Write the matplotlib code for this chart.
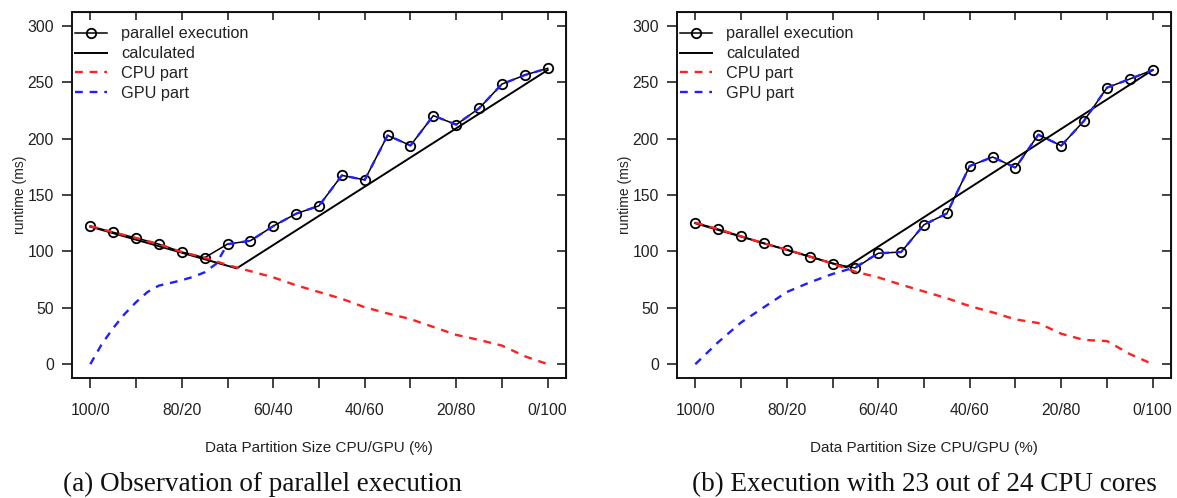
import matplotlib
matplotlib.use("Agg")
import matplotlib.pyplot as plt

plt.rcParams['font.family'] = ['Liberation Sans', 'DejaVu Sans']

# ---------------- data ----------------
share = [0, 5, 10, 15, 20, 25, 30, 35, 40, 45, 50, 55, 60, 65, 70, 75, 80, 85, 90, 95, 100]
tick_pos = [0, 10, 20, 30, 40, 50, 60, 70, 80, 90, 100]
label_pos = [0, 20, 40, 60, 80, 100]
label_txt = ["100/0", "80/20", "60/40", "40/60", "20/80", "0/100"]
y_ticks = [0, 50, 100, 150, 200, 250, 300]

# chart (a)
par_a = [122.5, 117, 112, 106.5, 99.5, 94.5, 106.5, 109.5, 122.5, 133.5, 140.5,
         167.5, 163.5, 203, 194, 220.5, 212.5, 227, 248.5, 256.5, 262.5]
calc_x_a = [0, 32, 100]
calc_a = [122, 85, 261]
cpu_a = [122.5, 117, 112, 106.5, 99.5, 94.5, 88, 82.5, 77, 70, 64,
         58, 50.5, 45, 40, 33, 26, 21.5, 16.5, 7, 0]
gpu_x_a = [0, 2.5, 5, 7.5, 10, 12.5, 15, 17.5, 20, 22.5, 25, 27.5, 30,
           35, 40, 45, 50, 55, 60, 65, 70, 75, 80, 85, 90, 95, 100]
gpu_a = [0, 17.7, 32, 44.5, 55, 64, 69.7, 72, 74.5, 77.5, 81.5, 89, 106.5,
         109.5, 122.5, 133.5, 140.5, 167.5, 163.5, 203, 194, 220.5, 212.5, 227, 248.5, 256.5, 262.5]

# chart (b)
par_b = [125.5, 119.8, 113.5, 107.1, 101.6, 95.5, 89.2, 85.4, 98.4, 99.5, 123.7,
         133.7, 175.8, 183.8, 174.3, 203.6, 193.8, 216, 245.3, 253, 261]
calc_x_b = [0, 33, 100]
calc_b = [125, 86, 261]
cpu_b = [125.5, 119.8, 113.5, 107.1, 101.6, 95.5, 89.2, 82, 77, 70.5, 64.5,
         58.5, 51.5, 46, 39.7, 36.5, 27, 21.5, 20.5, 9, 0]
gpu_b = [0, 19.5, 37, 50.5, 64, 72.5, 80, 86, 98.4, 99.5, 123.7,
         133.7, 175.8, 183.8, 174.3, 203.6, 193.8, 216, 245.3, 253, 261]

captions = ["(a) Observation of parallel execution", "(b) Execution with 23 out of 24 CPU cores"]
caption_cx = [262, 924]

RED = '#ff2020'
BLUE = '#2020ff'
FS = 11.3
FS_LEG = 11.7
FS_LAB = 11.0
FS_YLAB = 10.0

W, H = 1177, 498
fig = plt.figure(figsize=(W / 100, H / 100), dpi=100)

def px_axes(x0, y0, x1, y1):
    return fig.add_axes([x0 / W, 1 - y1 / H, (x1 - x0) / W, (y1 - y0) / H])

axes = [px_axes(72, 12.5, 566, 377.7), px_axes(677, 12.5, 1171, 377.7)]
datasets = [
    (par_a, calc_x_a, calc_a, share, cpu_a, gpu_x_a, gpu_a),
    (par_b, calc_x_b, calc_b, share, cpu_b, share, gpu_b),
]

for ax, (par, cx, cy, cpx, cpy, gx, gy), cap, ccx in zip(axes, datasets, captions, caption_cx):
    ax.plot(share, par, color='black', lw=1.1, marker='o', ms=6.8,
            mfc='none', mec='black', mew=1.3, zorder=2, label='parallel execution')
    ax.plot(cx, cy, color='black', lw=1.4, zorder=2, label='calculated')
    ax.plot(cpx, cpy, color=RED, lw=1.7, dashes=(3.3, 2.9), zorder=3, label='CPU part')
    ax.plot(gx, gy, color=BLUE, lw=1.7, dashes=(3.3, 2.9), zorder=3, label='GPU part')

    ax.set_xlim(-4, 104)
    ax.set_ylim(-12, 312)
    ax.set_xticks(tick_pos)
    ax.set_xticklabels([label_txt[label_pos.index(p)] if p in label_pos else "" for p in tick_pos])
    ax.set_yticks(y_ticks)
    ax.tick_params(axis='both', which='major', labelsize=FS, length=7, width=1.2,
                   direction='out', color='#222222', labelcolor='#222222')
    ax.tick_params(axis='x', pad=11)
    ax.tick_params(axis='y', pad=6)
    for s in ax.spines.values():
        s.set_linewidth(1.4)
        s.set_color('#111111')

    # inward ticks on top and right
    top = ax.secondary_xaxis('top')
    top.set_xticks(tick_pos)
    top.set_xticklabels([])
    top.tick_params(direction='in', length=5.5, width=1.2, color='#222222')
    right = ax.secondary_yaxis('right')
    right.set_yticks(y_ticks)
    right.set_yticklabels([])
    right.tick_params(direction='in', length=6.5, width=1.2, color='#222222')

    ax.set_xlabel("Data Partition Size CPU/GPU (%)", fontsize=FS_LAB, labelpad=17, color='#222222')
    ax.set_ylabel("runtime (ms)", fontsize=FS_YLAB, color='#222222')
    ax.yaxis.set_label_coords(-52 / 494, 0.5)
    ax.yaxis.label.set_va('center')

    leg = ax.legend(loc='upper left', bbox_to_anchor=(0.006, 0.962), frameon=False,
                    fontsize=FS_LEG, handlelength=2.0, handletextpad=0.85,
                    labelspacing=0.3, borderaxespad=0, borderpad=0)
    for t in leg.get_texts():
        t.set_color('#222222')

    fig.text(ccx / W, 1 - 491 / H, cap, ha='center', va='baseline',
             fontsize=19.5, family='Liberation Serif', color='#111111')

fig.savefig("out.png", dpi=100)
